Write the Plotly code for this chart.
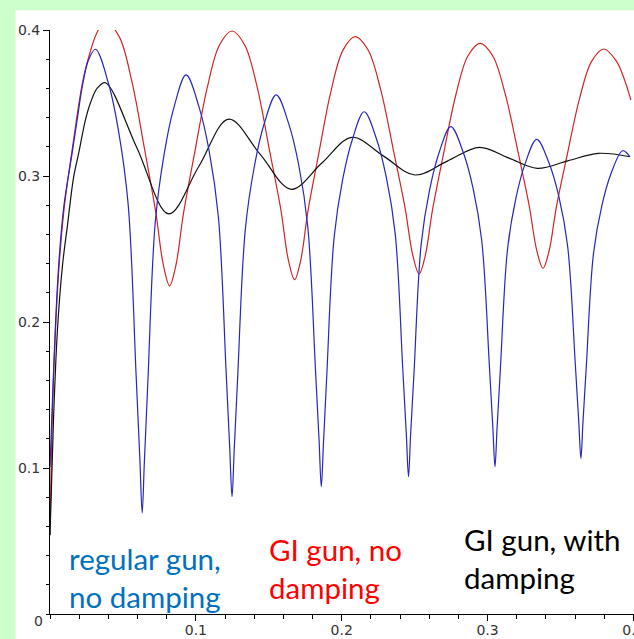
import plotly.graph_objects as go

# ---- data ----
BLUE_X = [0.0, 0.0017, 0.0038, 0.0062, 0.0096, 0.0152, 0.0186, 0.0221, 0.0264, 0.0312,
          0.0402, 0.0472, 0.0536, 0.0590, 0.0616, 0.0632,
          0.0647, 0.0671, 0.0722, 0.0783, 0.0849, 0.0933,
          0.1021, 0.1091, 0.1154, 0.1207, 0.1232, 0.1248,
          0.1263, 0.1287, 0.1339, 0.1400, 0.1466, 0.1551,
          0.1638, 0.1706, 0.1767, 0.1820, 0.1845, 0.1860,
          0.1875, 0.1898, 0.1948, 0.2007, 0.2072, 0.2154,
          0.2239, 0.2306, 0.2367, 0.2418, 0.2443, 0.2458,
          0.2472, 0.2496, 0.2545, 0.2603, 0.2667, 0.2748,
          0.2833, 0.2900, 0.2960, 0.3012, 0.3036, 0.3051,
          0.3065, 0.3088, 0.3137, 0.3194, 0.3257, 0.3337,
          0.3422, 0.3489, 0.3549, 0.3601, 0.3625, 0.3640,
          0.3654, 0.3677, 0.3726, 0.3783, 0.3846, 0.3926, 0.3976]
BLUE_Y = [0.1007, 0.1466, 0.1993, 0.2425, 0.2801, 0.3158, 0.3384, 0.3610, 0.3795, 0.3868,
          0.3630, 0.3296, 0.2804, 0.1645, 0.1064, 0.0692,
          0.1043, 0.1592, 0.2687, 0.3152, 0.3467, 0.3692,
          0.3475, 0.3172, 0.2724, 0.1670, 0.1141, 0.0803,
          0.1125, 0.1629, 0.2633, 0.3060, 0.3349, 0.3555,
          0.3354, 0.3072, 0.2656, 0.1677, 0.1186, 0.0872,
          0.1172, 0.1642, 0.2580, 0.2978, 0.3247, 0.3440,
          0.3252, 0.2990, 0.2602, 0.1690, 0.1232, 0.0940,
          0.1221, 0.1659, 0.2535, 0.2906, 0.3158, 0.3338,
          0.3163, 0.2919, 0.2558, 0.1708, 0.1281, 0.1009,
          0.1271, 0.1682, 0.2500, 0.2847, 0.3083, 0.3251,
          0.3087, 0.2858, 0.2519, 0.1721, 0.1322, 0.1066,
          0.1312, 0.1698, 0.2467, 0.2794, 0.3015, 0.3173, 0.3132]

RED_X = [0.0, 0.0017, 0.0038, 0.0062, 0.0096, 0.0152, 0.0221, 0.0264, 0.0332, 0.0390,
         0.0476, 0.0562, 0.0648, 0.0725, 0.0777, 0.0820,
         0.0863, 0.0914, 0.0991, 0.1077, 0.1162, 0.1248,
         0.1334, 0.1420, 0.1505, 0.1583, 0.1634, 0.1677,
         0.1719, 0.1768, 0.1843, 0.1926, 0.2009, 0.2092,
         0.2180, 0.2268, 0.2355, 0.2434, 0.2487, 0.2531,
         0.2573, 0.2623, 0.2698, 0.2782, 0.2865, 0.2949,
         0.3035, 0.3121, 0.3208, 0.3285, 0.3337, 0.3380,
         0.3422, 0.3472, 0.3547, 0.3631, 0.3714, 0.3798,
         0.3883, 0.3935, 0.3983]
RED_Y = [0.054, 0.140, 0.195, 0.238, 0.277, 0.318, 0.363, 0.381, 0.400, 0.405,
         0.3951, 0.3644, 0.3185, 0.2752, 0.2391, 0.2247,
         0.2387, 0.2736, 0.3155, 0.3600, 0.3897, 0.3993,
         0.3899, 0.3610, 0.3176, 0.2767, 0.2426, 0.2290,
         0.2423, 0.2756, 0.3155, 0.3580, 0.3862, 0.3954,
         0.3865, 0.3588, 0.3174, 0.2784, 0.2459, 0.2329,
         0.2455, 0.2771, 0.3151, 0.3553, 0.3822, 0.3909,
         0.3824, 0.3562, 0.3169, 0.2799, 0.2491, 0.2368,
         0.2488, 0.2789, 0.3149, 0.3532, 0.3787, 0.3870,
         0.3787, 0.3670, 0.3520]

BLACK_X = [0.0, 0.0024, 0.0051, 0.0086, 0.0120, 0.0161, 0.0197, 0.0243, 0.0277, 0.0325, 0.0380,
           0.0597, 0.0814, 0.1020, 0.1225, 0.1440, 0.1654, 0.1862, 0.2070, 0.2287, 0.2503,
           0.2724, 0.2944, 0.3143, 0.3341, 0.3550, 0.3759, 0.3976]
BLACK_Y = [0.054, 0.133, 0.1945, 0.239, 0.2664, 0.2986, 0.3158, 0.3384, 0.3500, 0.3603, 0.3639,
           0.3190, 0.2740, 0.3065, 0.3390, 0.3150, 0.2909, 0.3087, 0.3265, 0.3136, 0.3007,
           0.3102, 0.3196, 0.3124, 0.3052, 0.3104, 0.3155, 0.3132]

X_TICKS = [0.1, 0.2, 0.3, 0.4]
X_TICK_LABELS = ["0.1", "0.2", "0.3", "0.4"]
Y_TICKS = [0.1, 0.2, 0.3, 0.4]
Y_TICK_LABELS = ["0.1", "0.2", "0.3", "0.4"]
ORIGIN_LABEL = "0"

LABEL_BLUE = "regular gun,<br>no damping"
LABEL_RED = "GI gun, no<br>damping"
LABEL_BLACK = "GI gun, with<br>damping"

fig = go.Figure()
fig.add_trace(go.Scatter(x=RED_X, y=RED_Y, mode="lines",
                         line=dict(color="#d42424", width=1.2, shape="spline"),
                         showlegend=False))
fig.add_trace(go.Scatter(x=BLACK_X, y=BLACK_Y, mode="lines",
                         line=dict(color="#111111", width=1.2, shape="spline"),
                         showlegend=False))
fig.add_trace(go.Scatter(x=BLUE_X, y=BLUE_Y, mode="lines",
                         line=dict(color="#2626bc", width=1.2, shape="spline"),
                         showlegend=False))

tickfont = dict(family="DejaVu Sans", size=14, color="#333333")
fig.update_xaxes(range=[0, 0.4004], showgrid=False, zeroline=False, automargin=False,
                 showline=True, linecolor="black", linewidth=1,
                 tickmode="array", tickvals=X_TICKS, ticktext=X_TICK_LABELS,
                 ticks="outside", ticklen=6, tickcolor="black", tickfont=tickfont,
                 ticklabeloverflow="allow", ticklabelstandoff=-3,
                 minor=dict(dtick=0.02, tick0=0, ticks="outside", ticklen=4, tickcolor="black"))
fig.update_yaxes(range=[0, 0.4], showgrid=False, zeroline=False, automargin=False,
                 showline=True, linecolor="black", linewidth=1,
                 tickmode="array", tickvals=Y_TICKS, ticktext=Y_TICK_LABELS,
                 ticks="outside", ticklen=6, tickcolor="black", tickfont=tickfont,
                 ticklabeloverflow="allow",
                 minor=dict(dtick=0.02, tick0=0, ticks="outside", ticklen=3, tickcolor="black"))

fig.add_shape(type="rect", xref="paper", yref="paper", x0=-0.059, x1=1.02, y0=-0.06, y1=1.034,
              fillcolor="white", line=dict(width=0), layer="below")

txt = dict(family="Lato", size=29.5)
fig.add_annotation(x=0.0117, y=0.0253, xref="x", yref="y", text=LABEL_BLUE, showarrow=False,
                   xanchor="left", yanchor="middle", align="left", font=dict(txt, color="#0070c0"))
fig.add_annotation(x=0.1488, y=0.0315, xref="x", yref="y", text=LABEL_RED, showarrow=False,
                   xanchor="left", yanchor="middle", align="left", font=dict(txt, color="#ff0000"))
fig.add_annotation(x=0.2823, y=0.0377, xref="x", yref="y", text=LABEL_BLACK, showarrow=False,
                   xanchor="left", yanchor="middle", align="left", font=dict(txt, color="#000000"))
fig.add_annotation(x=-0.0205, y=-0.012, xref="paper", yref="paper", text=ORIGIN_LABEL,
                   showarrow=False, xanchor="center", yanchor="middle", font=tickfont)

fig.update_layout(width=634, height=639, paper_bgcolor="#ccffcc", plot_bgcolor="white",
                  margin=dict(l=49.5, r=0, t=30, b=25, pad=0, autoexpand=False), showlegend=False)

fig.write_html("out.html", config={"displayModeBar": False},
               post_script="document.body.style.margin='0';document.body.style.overflow='hidden';")
